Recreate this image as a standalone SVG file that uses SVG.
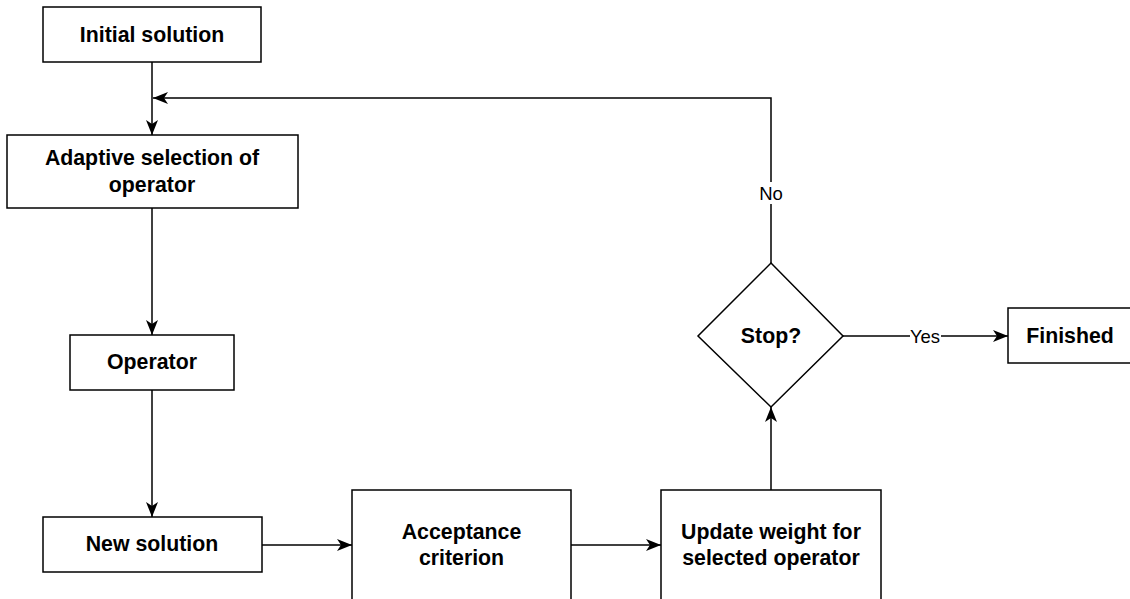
<svg xmlns="http://www.w3.org/2000/svg" width="1130" height="599" viewBox="0 0 1130 599">
  <style>
    .box { fill: #ffffff; stroke: #000000; stroke-width: 1.5; }
    .edge { fill: none; stroke: #000000; stroke-width: 1.5; }
    .t { font-family: "Liberation Sans", Arial, Helvetica, sans-serif; font-size: 21.3px; font-weight: bold; fill: #000000; text-anchor: middle; dominant-baseline: central; }
    .lbl { font-family: "Liberation Sans", Arial, Helvetica, sans-serif; font-size: 18.5px; fill: #000000; text-anchor: middle; dominant-baseline: central; }
  </style>
  <defs>
    <!-- classic arrowhead with a notched back -->
    <marker id="arrow" markerUnits="userSpaceOnUse" markerWidth="16" markerHeight="14" viewBox="0 0 16 14" refX="15" refY="7" orient="auto">
      <path d="M0,1 L15,7 L0,13 L4,7 Z" fill="#000000"/>
    </marker>
  </defs>

  <rect width="1130" height="599" fill="#ffffff"/>

  <!-- connectors -->
  <g id="edges">
    <path class="edge" d="M152,62 L152,135" marker-end="url(#arrow)"/>
    <path class="edge" d="M152,208 L152,335" marker-end="url(#arrow)"/>
    <path class="edge" d="M152,390 L152,517" marker-end="url(#arrow)"/>
    <path class="edge" d="M262,545 L352,545" marker-end="url(#arrow)"/>
    <path class="edge" d="M571,545 L661,545" marker-end="url(#arrow)"/>
    <path class="edge" d="M771,490 L771,407" marker-end="url(#arrow)"/>
    <path class="edge" d="M843,336 L1008,336" marker-end="url(#arrow)"/>
    <path class="edge" d="M771,263 L771,98 L153,98" marker-end="url(#arrow)"/>
    <!-- edge labels -->
    <rect x="910" y="326" width="31" height="20" fill="#ffffff"/>
    <text class="lbl" x="925" y="336">Yes</text>
    <rect x="759" y="182" width="24" height="22" fill="#ffffff"/>
    <text class="lbl" x="771" y="193">No</text>
  </g>

  <g id="initial-solution">
    <rect class="box" x="43" y="7" width="218" height="55"/>
    <text class="t" x="152" y="35">Initial solution</text>
  </g>

  <g id="adaptive-selection">
    <rect class="box" x="7" y="135" width="291" height="73"/>
    <text class="t" x="152" y="158">Adaptive selection of</text>
    <text class="t" x="152" y="185">operator</text>
  </g>

  <g id="operator">
    <rect class="box" x="70" y="335" width="164" height="55"/>
    <text class="t" x="152" y="362">Operator</text>
  </g>

  <g id="new-solution">
    <rect class="box" x="43" y="517" width="219" height="55"/>
    <text class="t" x="152" y="544">New solution</text>
  </g>

  <g id="acceptance-criterion">
    <rect class="box" x="352" y="490" width="219" height="110"/>
    <text class="t" x="461.5" y="532">Acceptance</text>
    <text class="t" x="461.5" y="558">criterion</text>
  </g>

  <g id="update-weight">
    <rect class="box" x="661" y="490" width="220" height="110"/>
    <text class="t" x="771" y="532">Update weight for</text>
    <text class="t" x="771" y="558">selected operator</text>
  </g>

  <g id="stop-decision">
    <polygon class="box" points="771,263 843,336 771,407 698,336"/>
    <text class="t" x="771" y="336">Stop?</text>
  </g>

  <g id="finished">
    <rect class="box" x="1008" y="308" width="124" height="55"/>
    <text class="t" x="1070" y="336">Finished</text>
  </g>
</svg>
